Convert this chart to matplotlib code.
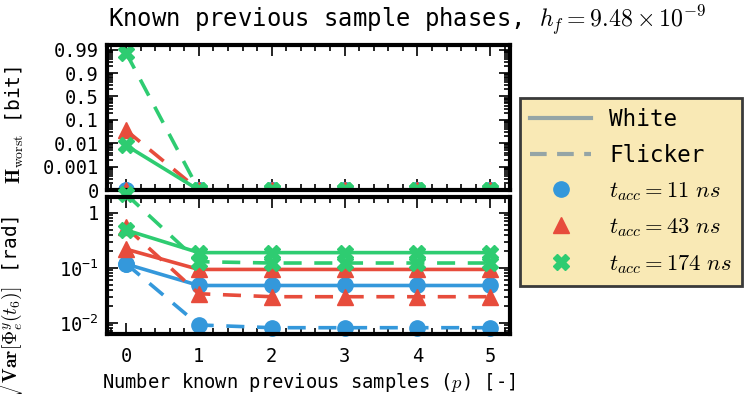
import numpy as np
import matplotlib
matplotlib.use('Agg')
import matplotlib.pyplot as plt
from matplotlib.lines import Line2D
from matplotlib.ticker import FixedLocator, NullFormatter

plt.rcParams['font.family'] = 'DejaVu Sans Mono'
plt.rcParams['mathtext.fontset'] = 'cm'

p = [0, 1, 2, 3, 4, 5]

# H_worst [bit]
h_white = {'11': [0, 0, 0, 0, 0, 0],
           '43': [0, 0, 0, 0, 0, 0],
           '174': [0.0092, 0, 0, 0, 0, 0]}
h_flicker = {'11': [0, 0, 0, 0, 0, 0],
             '43': [0.06, 0, 0, 0, 0, 0],
             '174': [0.979, 0, 0, 0, 0, 0]}

# sqrt(Var) [rad]
v_white = {'11': [0.118, 0.048, 0.048, 0.048, 0.048, 0.048],
           '43': [0.22, 0.094, 0.094, 0.094, 0.094, 0.094],
           '174': [0.49, 0.19, 0.19, 0.19, 0.19, 0.19]}
v_flicker = {'11': [0.12, 0.0092, 0.0082, 0.0082, 0.0082, 0.0082],
             '43': [0.55, 0.034, 0.030, 0.030, 0.030, 0.030],
             '174': [2.2, 0.13, 0.123, 0.123, 0.123, 0.123]}

t_acc = ['11', '43', '174']
colors = ['#3498db', '#e74c3c', '#2ecc71']
markers = ['o', '^', 'X']

h_ticks = [0, 0.001, 0.01, 0.1, 0.5, 0.9, 0.99]
h_tick_labels = ['0', '0.001', '0.01', '0.1', '0.5', '0.9', '0.99']
v_ticks = [0.01, 0.1, 1]
v_tick_labels = [r'$\mathregular{10^{-2}}$', r'$\mathregular{10^{-1}}$', '1']

# piecewise scale: each tick gets the same spacing
h_vals = [-1] + h_ticks + [1.0]
h_pos = [-1, 0, 1, 2, 3, 4, 5, 6, 7]


def fwd(v):
    return np.interp(v, h_vals, h_pos)


def inv(y):
    return np.interp(y, h_pos, h_vals)


W, H = 747, 394
fig = plt.figure(figsize=(W / 100, H / 100), dpi=100)
ax1 = fig.add_axes([107 / W, 1 - 190 / H, 403 / W, 145 / H])
ax2 = fig.add_axes([107 / W, 1 - 334 / H, 403 / W, 137 / H])

for i, t in enumerate(t_acc):
    ax1.plot(p, h_white[t], '-', color=colors[i], marker=markers[i],
             ms=11, lw=2.6)
    ax1.plot(p, h_flicker[t], '--', color=colors[i], marker=markers[i],
             ms=11, lw=2.6, dashes=(5, 3.5))
    ax2.plot(p, v_white[t], '-', color=colors[i], marker=markers[i],
             ms=11, lw=2.6, clip_on=False)
    ax2.plot(p, v_flicker[t], '--', color=colors[i], marker=markers[i],
             ms=11, lw=2.6, dashes=(5, 3.5), clip_on=False)

ax1.set_yscale('function', functions=(fwd, inv))
ax1.set_ylim(0, inv(6.2))
ax1.yaxis.set_major_locator(FixedLocator(h_ticks))
ax1.set_yticklabels(h_tick_labels)
minor = []
for k in range(6):
    for m in range(2, 10):
        minor.append(inv(k + np.log10(m)))
ax1.yaxis.set_minor_locator(FixedLocator(minor))
ax1.yaxis.set_minor_formatter(NullFormatter())
ax1.set_xticklabels([])

ax2.set_yscale('log')
ax2.set_ylim(0.0063, 1.95)
ax2.yaxis.set_major_locator(FixedLocator(v_ticks))
ax2.set_yticklabels(v_tick_labels)
ax2.yaxis.set_minor_formatter(NullFormatter())

for ax in (ax1, ax2):
    ax.set_xlim(-0.26, 5.27)
    ax.set_xticks(p)
    ax.xaxis.set_minor_locator(FixedLocator(np.arange(-0.2, 5.3, 0.2)))
    ax.tick_params(which='both', direction='in', top=True, right=True,
                   labelsize=13.5, width=1.2)
    ax.tick_params(which='major', length=8)
    ax.tick_params(which='minor', length=4)
    ax.tick_params(axis='y', pad=6)
    ax.tick_params(axis='x', pad=9)
    for s in ax.spines.values():
        s.set_linewidth(3)

ax2.set_xticklabels([str(v) for v in p])
ax2.set_xlabel('Number known previous samples ($p$) [-]', fontsize=13.5,
               labelpad=4)

ax1.set_ylabel(r'$\mathbf{H}_{\mathrm{worst}}$ [bit]', fontsize=14)
ax1.yaxis.set_label_coords(-0.2, 0.45)
ax2.set_ylabel(r'$\sqrt{\mathbf{Var}[\Phi_e^y(t_6)]}$ [rad]', fontsize=14)
ax2.yaxis.set_label_coords(-0.2, 0.19)

fig.text(108 / W, 1 - 20 / H,
         r'Known previous sample phases, $h_f = 9.48 \times 10^{-9}$',
         fontsize=17.2, va='center', ha='left')

handles = [Line2D([], [], color='#95a5a6', lw=3, ls='-'),
           Line2D([], [], color='#95a5a6', lw=3, ls='--', dashes=(4, 2.5))]
labels = ['White', 'Flicker']
for i, t in enumerate(t_acc):
    handles.append(Line2D([], [], color=colors[i], marker=markers[i],
                          ls='none', ms=11))
    labels.append(r'$t_{acc} = %s\ ns$' % t)

leg = fig.legend(handles, labels, loc='upper left',
                 bbox_to_anchor=(520 / W, 1 - 98 / H), fontsize=16.3,
                 fancybox=False, framealpha=1, handlelength=2.7,
                 labelspacing=0.55, borderpad=0.45, borderaxespad=0)
leg.get_frame().set_facecolor('#f9e9b5')
leg.get_frame().set_edgecolor('#3a3a3a')
leg.get_frame().set_linewidth(2)

fig.savefig('out.png', dpi=100)
